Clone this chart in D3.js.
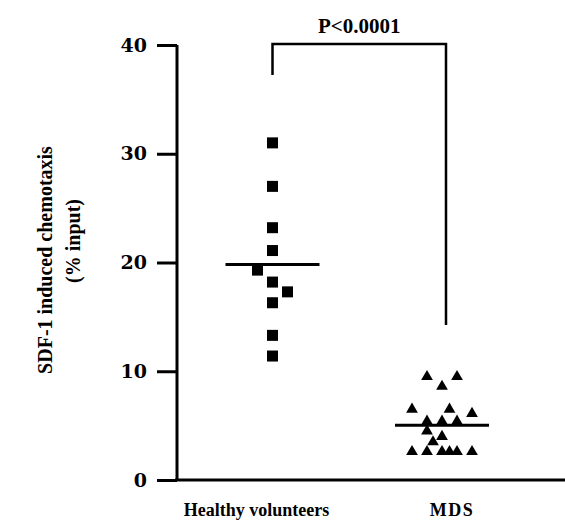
<!DOCTYPE html>
<html>
<head>
<meta charset="utf-8">
<script src="https://cdn.jsdelivr.net/npm/d3@7"></script>
<style>
  body { margin: 0; background: #fff; }
  text { font-family: "Liberation Serif", "DejaVu Serif", serif; font-weight: bold; fill: #000; }
</style>
</head>
<body>
<script>
// groups on the x axis
var groups = ["Healthy volunteers", "MDS"];

// healthy volunteers: chemotaxis (% input) and column slot in the scatter
var healthyValues = [31, 27, 23.2, 21.1, 19.3, 18.2, 17.3, 16.3, 13.3, 11.4];
var healthySlot   = [0, 0, 0, 0, -1, 0, 1, 0, 0, 0];

// MDS patients
var mdsValues = [9.5, 9.5, 8.6, 6.5, 6.5, 6.1, 5.4, 5.4, 5.4, 4.5, 4.0, 3.5, 2.6, 2.6, 2.6, 2.6, 2.6, 2.6];
var mdsSlot   = [-1, 1, 0, -2, 0.5, 2, -1, 0, 1, -1, 0, -0.6, -2, -1, 0, 0.5, 1, 2];

var yTicks = [0, 10, 20, 30, 40];
var pLabel = "P<0.0001";

var width = 565, height = 528;

var svg = d3.select("body").append("svg")
  .attr("width", width)
  .attr("height", height);

// scales
var y = d3.scaleLinear().domain([0, 40]).range([480, 45]);
var x = d3.scalePoint().domain(groups).range([272.5, 442]);
var slot = d3.scaleLinear().domain([-1, 1]).range([-15, 15]);

// y axis: ticks stick out to the left, no domain path
var yAxis = svg.append("g")
  .attr("transform", "translate(177,0)")
  .call(d3.axisLeft(y).tickValues(yTicks).tickSize(20).tickPadding(10));
yAxis.select(".domain").remove();
yAxis.selectAll(".tick line").attr("stroke", "#000").attr("stroke-width", 3);
yAxis.selectAll(".tick text")
  .attr("font-size", "19px")
  .attr("font-family", "DejaVu Serif, serif")
  .attr("font-weight", "bold")
  .style("font-family", "'DejaVu Serif', serif");

// axis lines
svg.append("line")
  .attr("x1", 177).attr("x2", 177)
  .attr("y1", y(40)).attr("y2", y(0))
  .attr("stroke", "#000").attr("stroke-width", 3);
svg.append("line")
  .attr("x1", 175).attr("x2", width)
  .attr("y1", y(0)).attr("y2", y(0))
  .attr("stroke", "#000").attr("stroke-width", 3);

// group labels
svg.selectAll(".grp")
  .data(groups)
  .enter().append("text")
    .attr("x", function(d, i) { return x(d) + (i == 0 ? -16 : 10); })
    .attr("y", 516)
    .attr("text-anchor", "middle")
    .attr("font-size", "18px")
    .attr("letter-spacing", function(d, i) { return i == 0 ? "0px" : "1.5px"; })
    .text(function(d) { return d; });

// y title, two lines
var yt = svg.append("g").attr("transform", "translate(52,260) rotate(-90)");
yt.append("text")
  .attr("text-anchor", "middle")
  .attr("font-size", "20px")
  .text("SDF-1 induced chemotaxis");
yt.append("text")
  .attr("x", 19)
  .attr("y", 28)
  .attr("text-anchor", "middle")
  .attr("font-size", "20px")
  .text("(% input)");

// healthy: squares
svg.selectAll(".sq")
  .data(healthyValues)
  .enter().append("rect")
    .attr("x", function(d, i) { return x(groups[0]) + slot(healthySlot[i]) - 5.5; })
    .attr("y", function(d) { return y(d) - 5.5; })
    .attr("width", 11)
    .attr("height", 11)
    .attr("fill", "#000");

// MDS: triangles
var tri = d3.symbol().type(d3.symbolTriangle).size(60);
svg.selectAll(".tri")
  .data(mdsValues)
  .enter().append("path")
    .attr("d", tri)
    .attr("transform", function(d, i) {
      return "translate(" + (x(groups[1]) + slot(mdsSlot[i])) + "," + y(d) + ")";
    })
    .attr("fill", "#000");

// mean lines
var means = [d3.mean(healthyValues), d3.mean(mdsValues)];
svg.selectAll(".mean")
  .data(means)
  .enter().append("line")
    .attr("x1", function(d, i) { return x(groups[i]) - 47; })
    .attr("x2", function(d, i) { return x(groups[i]) + 47; })
    .attr("y1", function(d) { return y(d); })
    .attr("y2", function(d) { return y(d); })
    .attr("stroke", "#000")
    .attr("stroke-width", 3);

// significance bracket
var bx0 = x(groups[0]), bx1 = x(groups[1]) + 4;
svg.append("path")
  .attr("d", d3.line()([[bx0, 75], [bx0, 44], [bx1, 44], [bx1, 325]]))
  .attr("fill", "none")
  .attr("stroke", "#000")
  .attr("stroke-width", 2.5);
svg.append("text")
  .attr("x", (bx0 + bx1) / 2)
  .attr("y", 33)
  .attr("text-anchor", "middle")
  .attr("font-size", "21px")
  .text(pLabel);
</script>
</body>
</html>
